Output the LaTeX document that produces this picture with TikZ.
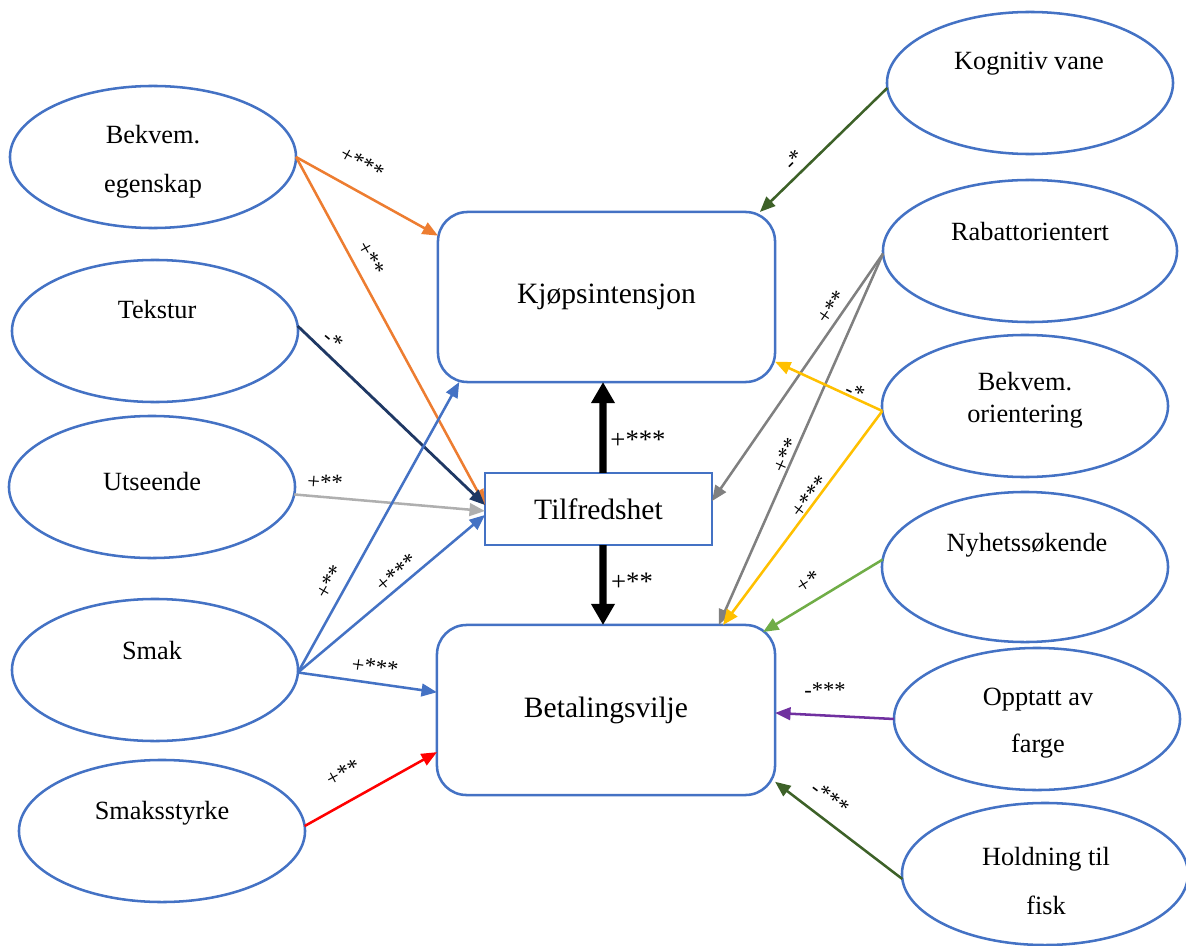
\documentclass[tikz,border=0pt]{standalone}
\usepackage{fontspec}
\setmainfont{Liberation Serif}
\usetikzlibrary{shapes.geometric,arrows.meta,calc}
\definecolor{bl}{HTML}{4472C4}
\definecolor{orng}{HTML}{ED7D31}
\definecolor{navy}{HTML}{1F3864}
\definecolor{lgray}{HTML}{AFAFAF}
\definecolor{dgray}{HTML}{808080}
\definecolor{gold}{HTML}{FFC000}
\definecolor{lgreen}{HTML}{70AD47}
\definecolor{dgreen}{HTML}{3D6128}
\definecolor{purp}{HTML}{7030A0}
\definecolor{rd}{HTML}{FF0000}
\begin{document}
\begin{tikzpicture}[x=0.025cm,y=-0.025cm,
  ell/.style={draw=bl,line width=1.8pt,ellipse,inner sep=0pt,outer sep=0pt,minimum width=7.15cm,minimum height=3.55cm},
  box/.style={draw=bl,line width=1.8pt,rectangle,inner sep=0pt,outer sep=0pt,font=\fontsize{21}{24}\selectfont},
  lab/.style={anchor=base,font=\fontsize{18.7}{20}\selectfont,inner sep=0pt},
  el/.style={font=\fontsize{16}{18}\selectfont,inner sep=1pt},
  bel/.style={font=\fontsize{19}{21}\selectfont,inner sep=1pt},
  con/.style={line width=1.8pt,-{Triangle[length=11pt,width=9pt]}},
  big/.style={line width=5pt,-{Triangle[length=15pt,width=16pt]}},
]
\useasboundingbox (0,0) rectangle (1186,946);

% ellipses left
\node[ell] (bekE) at (153,157) {};
\node[ell] (tek) at (155,331) {};
\node[ell] (uts) at (152,487) {};
\node[ell] (smak) at (155,670) {};
\node[ell] (styrke) at (162,831) {};
% ellipses right
\node[ell] (kog) at (1030,83) {};
\node[ell,minimum width=7.35cm] (rab) at (1030,251) {};
\node[ell] (bekO) at (1025,406) {};
\node[ell,minimum height=3.75cm] (nyh) at (1025,567) {};
\node[ell] (opp) at (1037,719) {};
\node[ell] (hold) at (1045,874) {};

% ellipse texts
\node[lab] (tbekE1) at (153,143) {Bekvem.};
\node[lab] (tbekE2) at (153,192) {egenskap};
\node[lab] (ttek) at (157,318) {Tekstur};
\node[lab] (tuts) at (152,490) {Utseende};
\node[lab] (tsmak) at (152,659) {Smak};
\node[lab] (tstyrke) at (162,819) {Smaksstyrke};
\node[lab] (tkog) at (1029,70) {Kognitiv vane};
\node[lab] (trab) at (1030,240) {Rabattorientert};
\node[lab] (tbekO1) at (1025,390) {Bekvem.};
\node[lab] (tbekO2) at (1025,422) {orientering};
\node[lab] (tnyh) at (1027,551) {Nyhetssøkende};
\node[lab] (topp1) at (1038,705) {Opptatt av};
\node[lab] (topp2) at (1038,752) {farge};
\node[lab] (thold1) at (1046,865) {Holdning til};
\node[lab] (thold2) at (1046,914) {fisk};

% boxes
\node[box,rounded corners=21pt,minimum width=8.425cm,minimum height=4.25cm] (kjop) at (606.5,297) {Kjøpsintensjon};
\node[box,minimum width=5.675cm,minimum height=1.8cm] (tilf) at (598.5,509) {Tilfredshet};
\node[box,rounded corners=21pt,minimum width=8.45cm,minimum height=4.25cm] (betal) at (606,710) {Betalingsvilje};

% black arrows
\draw[big] ($(tilf.north)+(4.5,0)$) -- ($(kjop.south)+(-3.5,0)$);
\draw[big] ($(tilf.south)+(4.5,0)$) -- ($(betal.north)+(-3,0)$);
\node[bel] (l17) at (638,440) {+***};
\node[bel] (l18) at (632,582) {+**};

% left connectors
\draw[con,orng] (bekE.0) -- (kjop.160.5);
\draw[con,orng] (bekE.0) -- (tilf.178);
\draw[con,navy,line width=2pt] (tek.2.5) -- (tilf.178.5);
\draw[con,lgray] (uts.-3.7) -- (tilf.181.5);
\draw[con,bl] (smak.-1) -- (kjop.210.5);
\draw[con,bl] (smak.-1) -- (tilf.183.5);
\draw[con,bl] (smak.-1) -- (betal.174);
\draw[con,rd] (styrke.2.5) -- (betal.194);

% right connectors
\draw[con,dgreen] (kog.182) -- (kjop.29);
\draw[con,dgray] (rab.181.5) -- (tilf.4.5);
\draw[con,dgray] (rab.181.5) -- (betal.37.2);
\draw[con,gold] (bekO.182) -- (kjop.-21);
\draw[con,gold] (bekO.182) -- (betal.36.2);
\draw[con,lgreen] (nyh.177) -- ($(betal.north east)+(-12,7)$);
\draw[con,purp] (opp.180) -- (betal.-1);
\draw[con,dgreen] (hold.182) -- (betal.-23.7);

% edge labels
\node[el,rotate=-29] (l1) at (362,163) {+***};
\node[el,rotate=-61] (l2) at (371,258) {+**};
\node[el,rotate=-40] (l3) at (333,340) {-*};
\node[el,rotate=-4] (l4) at (325,482) {+**};
\node[el,rotate=60] (l5) at (330,582) {+**};
\node[el,rotate=40] (l6) at (397,573) {+***};
\node[el,rotate=-8] (l7) at (375,667) {+***};
\node[el,rotate=28] (l8) at (343,773) {+**};
\node[el,rotate=45] (l9) at (794,160) {-*};
\node[el,rotate=55] (l10) at (832,307) {+**};
\node[el,rotate=66] (l11) at (786,455) {+**};
\node[el,rotate=-25] (l12) at (855,392) {-*};
\node[el,rotate=53] (l13) at (810,497) {+***};
\node[el,rotate=32] (l14) at (808,582) {+*};
\node[el] (l15) at (825,690) {-***};
\node[el,rotate=-37] (l16) at (830,798) {-***};
\end{tikzpicture}
\end{document}
